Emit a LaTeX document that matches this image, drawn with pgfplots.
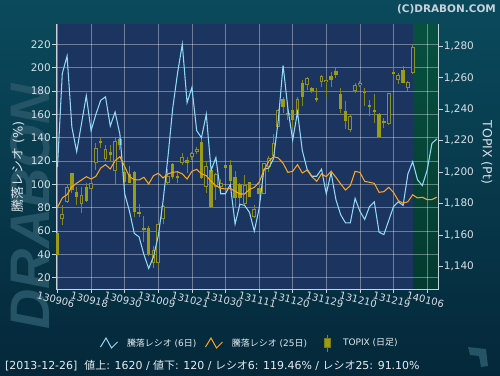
\documentclass[border=0pt]{standalone}
\usepackage{fontspec}
\setmainfont{DejaVu Sans}
\newfontfamily\cjk{Noto Sans CJK JP}
\newfontfamily\wmfont{Liberation Sans}
\usepackage{pgfplots}
\pgfplotsset{compat=1.18}
\usepackage{pgfplotstable}

\definecolor{bgtop}{HTML}{0A4A5C}
\definecolor{bgbot}{HTML}{04283A}
\definecolor{plotbg}{HTML}{1B3460}
\definecolor{futtop}{HTML}{075040}
\definecolor{futbot}{HTML}{043A2F}
\definecolor{axcol}{HTML}{C8D2DA}
\definecolor{ticktext}{HTML}{D8E0E6}
\definecolor{legtext}{HTML}{E6ECF0}
\definecolor{r6}{HTML}{92DAF8}
\definecolor{r25}{HTML}{FFA51E}
\definecolor{cfill}{HTML}{9C9C14}
\definecolor{cedge}{HTML}{7C7C12}
\definecolor{hedge}{HTML}{8E8E22}
\definecolor{wick}{HTML}{85851A}
\definecolor{wm}{HTML}{245466}

\pgfplotstableread{
d r6 r25
0 115 80.4
1 195 88.4
2 210 91.2
3 149 98.0
4 128 101.0
5 152 103.8
6 176 106.6
7 146 104.6
8 160 106.9
9 172 114.0
10 175 116.9
11 150 113.2
12 162 120.3
13 143 123.8
14 92 115.2
15 77 106.6
16 58 104.1
17 55 103.8
18 40 106.1
19 28 100.4
20 38 107.5
21 56 109.5
22 86 105.5
23 123 109.0
24 165 110.3
25 195 110.9
26 220 109.0
27 170 104.6
28 183 111.2
29 146 112.9
30 140 109.0
31 160 107.5
32 112 102.6
33 123 99.0
34 92 96.6
35 92 96.1
36 100 96.6
37 66 94.1
38 83 91.8
39 82 91.8
40 76 95.8
41 60 97.5
42 79 101.8
43 113 111.8
44 114 119.8
45 122 123.8
46 155 122.6
47 202 118.1
48 165 110.3
49 138 111.2
50 162 116.9
51 129 109.8
52 113 112.3
53 107 106.6
54 107 102.6
55 113 109.0
56 92 106.6
57 110 111.2
58 87 106.1
59 74 100.4
60 67 95.2
61 67 98.9
62 88 111.2
63 77 110.3
64 70 102.6
65 81 101.8
66 85 100.9
67 59 93.2
68 57 93.8
69 69 97.5
70 81 93.2
71 85 86.1
72 82 83.8
73 109 85.2
74 119.46 91.10
75 104 88.4
76 99 89.0
77 112 87.0
78 135 87.0
79 139 89.0
}\ratio

% filled (down) candles: day high low bodytop bodybottom
\pgfplotstableread{
d hi lo top bot
0 1161.4 1143.6 1161.4 1147.2
3 1199.2 1186.8 1199.2 1188.6
4 1190.7 1179.0 1187.5 1184.3
6 1192.8 1181.1 1190.7 1181.6
9 1221.5 1215.1 1220.0 1218.3
11 1217.2 1206.6 1212.5 1210.8
13 1221.5 1214.0 1221.0 1217.2
14 1205.5 1192.8 1200.2 1193.8
15 1203.8 1192.8 1198.7 1193.2
16 1200.6 1171.2 1200.2 1174.7
17 1179.5 1171.6 1174.7 1173.3
18 1172.0 1155.7 1164.2 1163.1
19 1165.6 1146.6 1164.2 1147.2
24 1205.5 1195.4 1205.1 1197.0
25 1200.2 1192.8 1197.5 1196.0
27 1209.7 1199.2 1207.6 1205.5
30 1222.9 1195.4 1219.3 1196.0
32 1201.7 1177.5 1201.3 1177.9
35 1205.5 1202.4 1204.2 1202.8
36 1207.6 1192.8 1204.5 1194.0
37 1200.8 1178.0 1197.0 1183.4
38 1192.8 1178.0 1192.6 1183.5
40 1193.8 1184.0 1193.4 1184.3
42 1192.8 1185.8 1190.0 1185.8
47 1247.9 1237.3 1246.4 1241.5
48 1240.5 1233.1 1237.3 1236.3
49 1241.5 1228.8 1239.4 1233.1
51 1258.5 1242.0 1256.8 1247.9
53 1254.3 1250.5 1253.2 1251.7
54 1253.2 1244.7 1247.3 1245.8
57 1263.8 1254.3 1261.1 1258.5
58 1266.6 1259.6 1264.2 1261.7
59 1253.2 1237.7 1249.6 1239.8
60 1245.4 1227.3 1238.8 1232.6
64 1253.2 1242.0 1251.1 1250.0
65 1245.8 1235.6 1242.6 1241.1
66 1249.6 1230.9 1239.4 1238.4
67 1237.3 1222.0 1236.9 1222.5
68 1234.1 1227.8 1232.6 1231.4
70 1268.1 1258.5 1263.4 1262.3
72 1267.4 1256.4 1264.9 1256.8
}\filled

% hollow (up) candles
\pgfplotstableread{
d hi lo top bot
1 1179.0 1166.3 1173.1 1169.9
2 1192.2 1180.5 1190.3 1181.1
5 1190.7 1174.1 1185.4 1179.4
7 1200.2 1184.3 1192.8 1189.0
8 1218.3 1201.3 1215.1 1205.5
10 1217.2 1206.6 1214.5 1208.5
12 1221.5 1191.7 1220.0 1200.8
20 1152.9 1138.7 1150.4 1142.3
21 1166.9 1138.7 1166.9 1141.9
22 1179.0 1166.9 1178.4 1169.9
23 1201.7 1192.4 1197.5 1193.2
26 1211.9 1204.5 1209.7 1206.0
28 1212.9 1207.6 1212.3 1209.7
29 1216.1 1211.5 1214.8 1212.9
31 1206.6 1186.5 1203.8 1190.7
33 1199.2 1182.2 1198.7 1190.7
34 1195.4 1186.5 1193.2 1190.7
39 1198.1 1179.0 1191.7 1179.6
41 1179.0 1170.5 1176.4 1171.1
43 1205.5 1185.8 1205.5 1185.8
44 1210.2 1200.2 1208.7 1203.4
45 1224.1 1209.8 1218.2 1210.2
46 1239.8 1228.4 1239.4 1228.8
50 1247.9 1235.2 1246.4 1236.9
52 1260.6 1252.2 1259.6 1255.3
55 1261.7 1254.3 1261.1 1257.5
56 1259.6 1247.9 1258.5 1257.0
61 1236.9 1225.6 1235.8 1226.7
62 1256.4 1250.5 1255.3 1251.7
63 1258.1 1254.3 1256.8 1255.3
69 1250.0 1229.9 1250.0 1230.3
71 1262.8 1256.0 1261.5 1258.5
73 1257.9 1251.7 1257.5 1253.2
74 1280.8 1262.3 1279.7 1263.2
}\hollow

\pgfplotsset{
  base/.style={scale only axis, width=382.7bp, height=265bp,
    xmin=-0.31, xmax=79.42, at={(56bp,86bp)}, anchor=south west},
  leftscale/.style={ymin=10.4, ymax=237.4},
  rightscale/.style={ymin=1125.55, ymax=1294.2},
  legbase/.style={legend style={draw=none, fill=none, inner sep=0pt, outer sep=0pt,
    anchor=west, font=\fontsize{9}{11}\selectfont, text=legtext,
    nodes={inner sep=0pt}}},
  candle/.style 2 args={draw=none, mark=none, forget plot,
    error bars/.cd, y dir=plus, y explicit, error mark=none,
    error bar style={draw=#1, line width=#2}},
}

\begin{document}
\begin{tikzpicture}[x=1bp,y=1bp]
\shade[top color=bgtop, bottom color=bgbot] (0,0) rectangle (500,375);
\node[rotate=90, font=\wmfont\bfseries\itshape\fontsize{56}{56}\selectfont, text=wm, inner sep=0pt] at (30,168) {DRABON};
\fill[wm] (468,28) -- (486,26) -- (488,9) -- (481,8) -- (479,19) -- (470,20) -- cycle;
\node[anchor=east, inner sep=0pt, font=\bfseries\fontsize{10.5}{12}\selectfont, text=axcol] at (496,365.5) {(C)DRABON.COM};
\node[anchor=west, inner sep=0pt, font=\fontsize{11}{13}\selectfont, text=legtext] at (5,9.5)
  {[2013-12-26]\ \ {\cjk 値上}: 1620 / {\cjk 値下}: 120 / {\cjk レシオ}6: 119.46\% / {\cjk レシオ}25: 91.10\%};
\node[rotate=90, inner sep=0pt, font=\fontsize{13}{15}\selectfont, text=ticktext] at (18,208) {{\cjk 騰落レシオ} (\%)};
\node[rotate=-90, inner sep=0pt, font=\fontsize{12.5}{14}\selectfont, text=ticktext] at (486.7,222.5) {TOPIX (Pt)};

% A: plot background and future region
\begin{axis}[base, leftscale, hide axis]
\fill[plotbg] (rel axis cs:0,0) rectangle (rel axis cs:1,1);
\shade[top color=futtop, bottom color=futbot] (axis cs:74.13,10.4) rectangle (axis cs:79.42,237.4);
\end{axis}

% B: grid, left axis, x axis
\begin{axis}[base, leftscale, legbase,
  ytick={20,40,...,220},
  xtick={0,7,...,77},
  xticklabels={130906,130918,130930,131009,131021,131030,131111,131120,131129,131210,131219,140106},
  grid=major, major grid style={white, opacity=0.36, line width=0.6bp},
  axis x line*=bottom, axis y line*=left,
  axis line style={-, axcol, line width=0.8bp},
  tick align=outside, major tick length=4bp,
  tick style={axcol, line width=0.7bp},
  tick label style={font=\fontsize{10.5}{12}\selectfont, text=ticktext},
  /pgf/number format/assume math mode=true,
  xticklabel style={rotate=-14, anchor=center, yshift=-7bp, font=\fontsize{10}{12}\selectfont},
  yticklabel style={inner sep=1bp},
  legend style={at={(axis description cs:0.115,-0.2038)}, column sep=9bp}]
\addlegendimage{legend image code/.code={\draw[r6, line width=1bp] (0bp,-4bp) -- (5.5bp,5bp) -- (11bp,-5bp) -- (17bp,1bp);}}
\addlegendentry{{\cjk 騰落レシオ} (6{\cjk 日})}
\end{axis}

% C: TOPIX candles
\begin{axis}[base, rightscale, legbase,
  axis x line=none, axis y line*=right,
  ytick={1140,1160,...,1280},
  axis line style={-, axcol, line width=0.8bp},
  tick align=outside, major tick length=4bp,
  tick style={axcol, line width=0.7bp},
  tick label style={font=\fontsize{10.5}{12}\selectfont, text=ticktext},
  /pgf/number format/assume math mode=true,
  yticklabel style={inner sep=1bp},
  legend style={at={(axis description cs:0.699,-0.2038)}, column sep=12.5bp}]
% wicks
\addplot[candle={wick}{0.8bp}]
  table[x=d, y=lo, y error expr=\thisrow{hi}-\thisrow{lo}] {\filled};
\addplot[candle={wick}{0.8bp}]
  table[x=d, y=lo, y error expr=\thisrow{hi}-\thisrow{lo}] {\hollow};
% filled bodies
\addplot[candle={cfill}{3.5bp}]
  table[x=d, y=bot, y error expr=\thisrow{top}-\thisrow{bot}] {\filled};
% hollow bodies
\addplot[candle={hedge}{3.8bp}]
  table[x=d, y=bot, y error expr=\thisrow{top}-\thisrow{bot}] {\hollow};
\addplot[candle={plotbg}{1.8bp}]
  table[x=d, y expr=\thisrow{bot}+0.65, y error expr=\thisrow{top}-\thisrow{bot}-1.3] {\hollow};
\addlegendimage{legend image code/.code={\draw[wick, line width=0.8bp] (3.25bp,-8.5bp) -- (3.25bp,8.5bp);
  \filldraw[fill=cfill, draw=cedge, line width=0.6bp] (0bp,-4.5bp) rectangle (6.5bp,4.5bp);}}
\addlegendentry{TOPIX ({\cjk 日足})}
\end{axis}

% D: ratio lines
\begin{axis}[base, leftscale, hide axis, legbase,
  legend style={at={(axis description cs:0.3893,-0.2038)}, column sep=9bp}]
\addplot[r6, line width=1.05bp, forget plot] table[x=d, y=r6] {\ratio};
\addplot[r25, line width=1.05bp, forget plot] table[x=d, y=r25] {\ratio};
\addlegendimage{legend image code/.code={\draw[r25, line width=1bp] (0bp,-4bp) -- (5.5bp,5bp) -- (11bp,-5bp) -- (17bp,1bp);}}
\addlegendentry{{\cjk 騰落レシオ} (25{\cjk 日})}
\end{axis}
\end{tikzpicture}
\end{document}
